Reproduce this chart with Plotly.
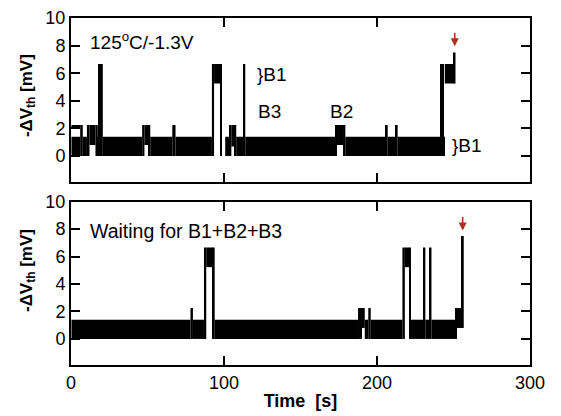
import plotly.graph_objects as go

# ---- data: top panel segments (start s, end s, low mV, high mV) ----
top_t0 = [0.3, 0.3, 6.0, 7.7, 10.4, 12.1, 16.0, 17.5, 18.0, 18.4, 18.9, 20.8, 46.5, 48.0, 50.9, 51.8,
          66.2, 68.3, 92.1, 93.5, 97.8, 100.8, 103.7, 104.8, 106.9, 108.0, 112.4, 113.9, 173.0, 173.8,
          177.8, 179.3, 205.7, 207.0, 212.2, 213.5, 241.2, 242.0, 242.8, 243.7, 244.3, 250.3]
top_t1 = [6.0, 6.0, 7.7, 10.4, 12.1, 16.0, 17.5, 18.0, 18.4, 18.9, 20.8, 46.5, 48.0, 50.9, 51.8, 66.2,
          68.3, 92.1, 93.5, 97.8, 98.6, 103.7, 104.8, 106.9, 108.0, 112.4, 113.9, 173.0, 173.8, 177.8,
          179.3, 205.7, 207.0, 212.2, 213.5, 241.2, 242.0, 242.8, 243.7, 244.3, 250.3, 251.3]
top_lo = [0, 2.05, 0, 0, 0, 0.8, 0, 0, 0, 5.26, 0, 0, 0, 0.8, 0, 0,
          0, 0, 0, 5.26, 0, 0, 0, 0.7, 0, 0, 0, 0, 0, 0.8,
          0, 0, 0, 0, 0, 0, 0, 0, 0, 0, 5.26, 5.26]
top_hi = [1.4, 2.25, 2.25, 1.4, 2.25, 2.25, 2.25, 1.4, 6.67, 6.67, 6.67, 1.4, 2.25, 2.25, 2.25, 1.4,
          2.25, 1.4, 6.67, 6.67, 6.67, 1.4, 2.25, 2.25, 2.25, 1.4, 6.67, 1.4, 2.25, 2.25,
          2.25, 1.4, 2.25, 1.4, 2.25, 1.4, 6.67, 1.4, 6.67, 1.4, 6.67, 7.5]

# ---- data: bottom panel segments ----
bot_t0 = [0.3, 78.1, 79.7, 86.9, 88.4, 92.6, 93.9, 187.6, 190.2, 192.0, 194.3, 195.9,
          216.6, 218.2, 221.0, 221.8, 230.5, 231.6, 234.5, 235.6, 251.5, 252.3, 255.5]
bot_t1 = [78.1, 79.7, 86.9, 88.4, 92.6, 93.9, 187.6, 190.2, 192.0, 194.3, 195.9, 216.6,
          218.2, 221.0, 221.8, 230.5, 231.6, 234.5, 235.6, 251.5, 252.3, 255.5, 256.7]
bot_lo = [0, 0, 0, 0, 5.23, 0, 0, 0, 0.8, 0, 0, 0,
          0, 5.23, 0, 0, 0, 0, 0, 0, 0, 0.8, 0.8]
bot_hi = [1.4, 2.25, 1.4, 6.67, 6.67, 6.67, 1.4, 2.25, 2.25, 1.4, 2.25, 1.4,
          6.67, 6.67, 6.67, 1.4, 6.67, 1.4, 6.67, 1.4, 2.25, 2.25, 7.5]

x_ticks = [0, 100, 200, 300]
y_ticks = [0, 2, 4, 6, 8, 10]

FONT = "Liberation Sans, Arial, Helvetica, sans-serif"
RED = "#B0301C"

fig = go.Figure()


def add_segments(t0, t1, lo, hi, xa, ya):
    fig.add_trace(go.Bar(
        x=[(a + b) / 2 for a, b in zip(t0, t1)],
        width=[b - a for a, b in zip(t0, t1)],
        base=lo,
        y=[h - l for l, h in zip(lo, hi)],
        marker=dict(color="black", line=dict(width=0)),
        xaxis=xa, yaxis=ya, showlegend=False, hoverinfo="skip",
    ))


add_segments(top_t0, top_t1, top_lo, top_hi, "x", "y")
add_segments(bot_t0, bot_t1, bot_lo, bot_hi, "x2", "y2")

axis_common = dict(
    showline=True, linewidth=2, linecolor="black", mirror="ticks",
    ticks="inside", ticklen=9, tickwidth=2, tickcolor="black",
    showgrid=False, zeroline=False,
    tickfont=dict(family=FONT, size=18, color="black"),
)

fig.update_layout(
    width=561, height=416,
    margin=dict(l=71, r=31, t=8, b=51),
    plot_bgcolor="white", paper_bgcolor="white",
    barmode="overlay",
    font=dict(family=FONT, color="black"),
    xaxis=dict(axis_common, domain=[0, 1], range=[0, 300], tickvals=x_ticks,
               showticklabels=False, anchor="y"),
    yaxis=dict(axis_common, domain=[0.5266, 1], range=[-1.9, 10], tickvals=y_ticks, anchor="x"),
    xaxis2=dict(axis_common, domain=[0, 1], range=[0, 300], tickvals=x_ticks, anchor="y2",
                title=dict(text="<b>Time\u00a0\u00a0[s]</b>", font=dict(family=FONT, size=18),
                           standoff=3)),
    yaxis2=dict(axis_common, domain=[0, 0.4706], range=[-1.9, 10], tickvals=y_ticks, anchor="x2"),
)

ylab = "<b>-ΔV<sub>th</sub> [mV]</b>"
annots = [
    dict(text=ylab, xref="paper", yref="paper", x=-0.095, y=0.776, textangle=-90,
         xanchor="center", yanchor="middle", showarrow=False, font=dict(size=17)),
    dict(text=ylab, xref="paper", yref="paper", x=-0.095, y=0.272, textangle=-90,
         xanchor="center", yanchor="middle", showarrow=False, font=dict(size=17)),
    dict(text="125<sup>o</sup>C/-1.3V", xref="x", yref="y", x=10.8, y=8.3,
         xanchor="left", yanchor="middle", showarrow=False, font=dict(size=19)),
    dict(text="}B1", xref="x", yref="y", x=120, y=5.9,
         xanchor="left", yanchor="middle", showarrow=False, font=dict(size=19)),
    dict(text="B3", xref="x", yref="y", x=120.7, y=3.2,
         xanchor="left", yanchor="middle", showarrow=False, font=dict(size=19)),
    dict(text="B2", xref="x", yref="y", x=167.7, y=3.2,
         xanchor="left", yanchor="middle", showarrow=False, font=dict(size=19)),
    dict(text="}B1", xref="x", yref="y", x=247.5, y=0.75,
         xanchor="left", yanchor="middle", showarrow=False, font=dict(size=19)),
    dict(text="Waiting for B1+B2+B3", xref="x2", yref="y2", x=10.8, y=7.86,
         xanchor="left", yanchor="middle", showarrow=False, font=dict(size=19.5)),
    dict(text="", xref="x", yref="y", x=250.8, y=7.95, ax=0, ay=-15,
         showarrow=True, arrowhead=2, arrowsize=1, arrowwidth=1.6, arrowcolor=RED),
    dict(text="", xref="x2", yref="y2", x=256.0, y=7.9, ax=0, ay=-15,
         showarrow=True, arrowhead=2, arrowsize=1, arrowwidth=1.6, arrowcolor=RED),
]
fig.update_layout(annotations=annots)

fig.write_html("out.html")
